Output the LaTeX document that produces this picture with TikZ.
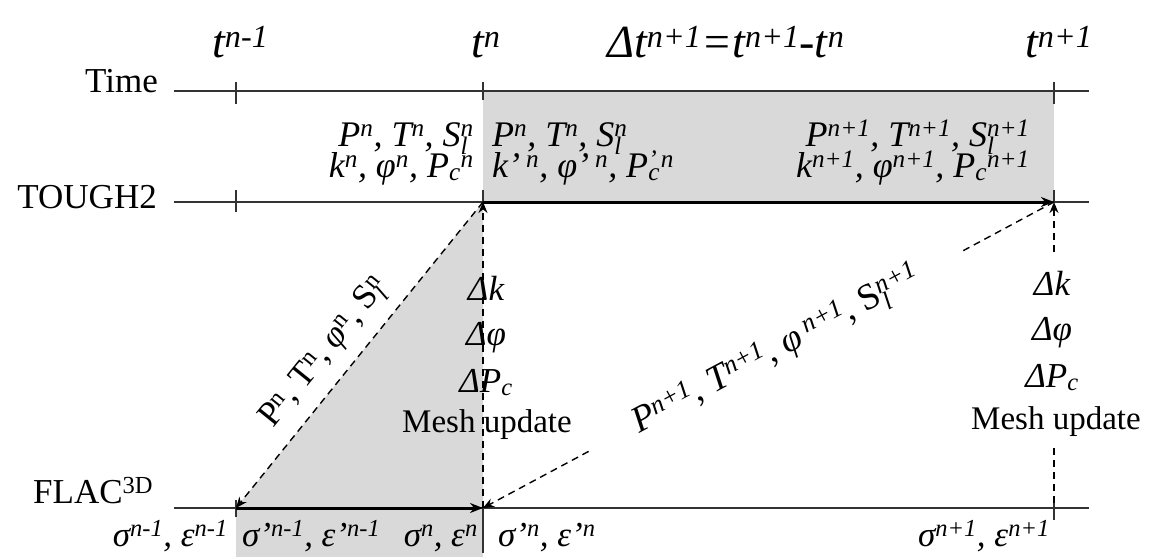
\documentclass[tikz,border=0pt]{standalone}
\usepackage{fontspec}
\setmainfont{Liberation Serif}
\usetikzlibrary{arrows.meta}
\newcommand\tsup[1]{\textsuperscript{#1}}
\newcommand\tsub[1]{\textsubscript{#1}}
\newcommand\tstk[2]{\rlap{\textsubscript{#2}}\textsuperscript{#1}}
\begin{document}
\begin{tikzpicture}[x=1pt,y=-1pt,
  ln/.style={line width=1.3pt, draw=black!80},
  tick/.style={line width=1.3pt, draw=black!80},
  tharr/.style={line width=3pt, draw=black, -{Stealth[length=13pt,width=10pt]}},
  dsh/.style={line width=1.4pt, draw=black, dash pattern=on 7pt off 5pt, -{Stealth[length=11pt,width=9pt]}},
  dshplain/.style={line width=1.4pt, draw=black, dash pattern=on 7pt off 5pt},
  lab/.style={inner sep=0pt, font=\fontsize{35}{40}\selectfont\itshape},
  dat/.style={inner sep=0pt, font=\fontsize{36}{40}\selectfont\itshape},
  labup/.style={inner sep=0pt, font=\fontsize{35}{40}\selectfont},
  mesh/.style={inner sep=0pt, font=\fontsize{33}{38}\selectfont},
  ttl/.style={inner sep=0pt, font=\fontsize{46}{52}\selectfont\itshape},
  shade/.style={fill=gray!30}]
\useasboundingbox (0,0) rectangle (1149,557);
% grey areas
\fill[shade] (483,91) rectangle (1054,202);
\fill[shade] (236,508) -- (483,202) -- (483,508) -- cycle;
\fill[shade] (236,508) rectangle (483,557);
% key points
\coordinate (tL) at (174,91);  \coordinate (tR) at (1089,91);
\coordinate (gL) at (174,202); \coordinate (gR) at (1089,202);
\coordinate (fL) at (174,508); \coordinate (fR) at (1089,508);
\coordinate (gA) at (236,202); \coordinate (gB) at (483,202); \coordinate (gC) at (1054,202);
\coordinate (fA) at (236,508); \coordinate (fB) at (483,508); \coordinate (fC) at (1054,508);
\coordinate (rU) at (1054,252); \coordinate (rD) at (1054,448);
% axis lines
\draw[ln] (tL) -- (tR);
\draw[ln] (gL) -- (gR);
\draw[ln] (fL) -- (fR);
% ticks
\draw[tick] (236,82) -- (236,104);
\draw[tick] (483,82) -- (483,100);
\draw[tick] (1054,82) -- (1054,104);
\draw[tick] (236,190) -- (236,212);
\draw[tick] (483,190) -- (483,202);
\draw[tick] (1054,190) -- (1054,202);
\draw[tick] (236,500) -- (236,517);
\draw[tick] (483,508) -- (483,553);
\draw[tick] (1054,498) -- (1054,520);
% axis labels
\node[labup, anchor=base east] (time) at (158,92) {Time};
\node[labup, anchor=base east] (tough) at (157,208) {TOUGH2};
\node[labup, anchor=base west] (flac) at (33,503) {FLAC\tsup{3D}};
% titles
\node[ttl, anchor=base west] (ti1) at (212,57) {t\tsup{n-1}};
\node[ttl, anchor=base west] (ti2) at (471,57) {t\tsup{n}};
\node[ttl, anchor=base west] (ti3) at (607,57) {Δt\tsup{n+1}=t\tsup{n+1}-t\tsup{n}};
\node[ttl, anchor=base west] (ti4) at (1025,57) {t\tsup{n+1}};
% thick arrows
\draw[tharr] (gB) -- (gC);
\draw[tharr] (fA) -- (fB);
% dashed arrows
\draw[dsh] (gB) -- (fA);
\draw[dsh] (fB) -- (gB);
\draw[dsh] (gC) -- node[pos=0.485, rotate=28.2, fill=white, inner xsep=50pt, inner ysep=3pt,
   font=\fontsize{37}{42}\selectfont\itshape] (lab2)
   {P\tsup{n+1}, T\tsup{n+1}, φ\,\tsup{n+1}, \upshape S\tstk{\itshape n+1}{\itshape l}} (fB);
\draw[dsh] (rU) -- (gC);
\draw[dshplain] (rD) -- (fC);
\node[labup, rotate=51.1] (lab1) at (325,353) {P\tsup{n}, T\tsup{n}, \textit{φ}\tsup{n}, S\tstk{n}{\itshape l}};
% data rows
\node[dat, anchor=base east] (d1) at (474,146) {P\tsup{n}, T\tsup{n}, S\tstk{n}{l}};
\node[dat, anchor=base east] (d2) at (474,177) {k\tsup{n}, φ\tsup{n}, P\tsub{c}\tsup{n}};
\node[dat, anchor=base west] (d3) at (492,146) {P\tsup{n}, T\tsup{n}, S\tstk{n}{l}};
\node[dat, anchor=base west] (d4) at (492,177) {k’\,\tsup{n}, φ’\,\tsup{n}, P\tstk{’\,n}{c}};
\node[dat, anchor=base east] (d5) at (1030,146) {P\tsup{n+1}, T\tsup{n+1}, S\tstk{n+1}{l}};
\node[dat, anchor=base east] (d6) at (1030,177) {k\tsup{n+1}, φ\tsup{n+1}, P\tsub{c}\tsup{n+1}};
% delta labels
\node[lab, anchor=base] (dk1) at (486,300) {Δk};
\node[lab, anchor=base] (dp1) at (486,345) {Δφ};
\node[lab, anchor=base] (dc1) at (486,392) {ΔP\tsub{c}};
\node[mesh, anchor=base] (mu1) at (487,432) {Mesh update};
\node[lab, anchor=base] (dk2) at (1052,295) {Δk};
\node[lab, anchor=base] (dp2) at (1052,340) {Δφ};
\node[lab, anchor=base] (dc2) at (1052,387) {ΔP\tsub{c}};
\node[mesh, anchor=base] (mu2) at (1056,429) {Mesh update};
% bottom labels
\node[lab, anchor=base east] (b1) at (228,546) {σ\tsup{n-1}, ε\tsup{n-1}};
\node[lab, anchor=base west] (b2) at (242,546) {σ’\tsup{n-1}, ε’\tsup{n-1}};
\node[lab, anchor=base east] (b3) at (478,546) {σ\tsup{n}, ε\tsup{n}};
\node[lab, anchor=base west] (b4) at (498,546) {σ’\tsup{n}, ε’\tsup{n}};
\node[lab, anchor=base east] (b5) at (1050,546) {σ\tsup{n+1}, ε\tsup{n+1}};
\end{tikzpicture}
\end{document}
